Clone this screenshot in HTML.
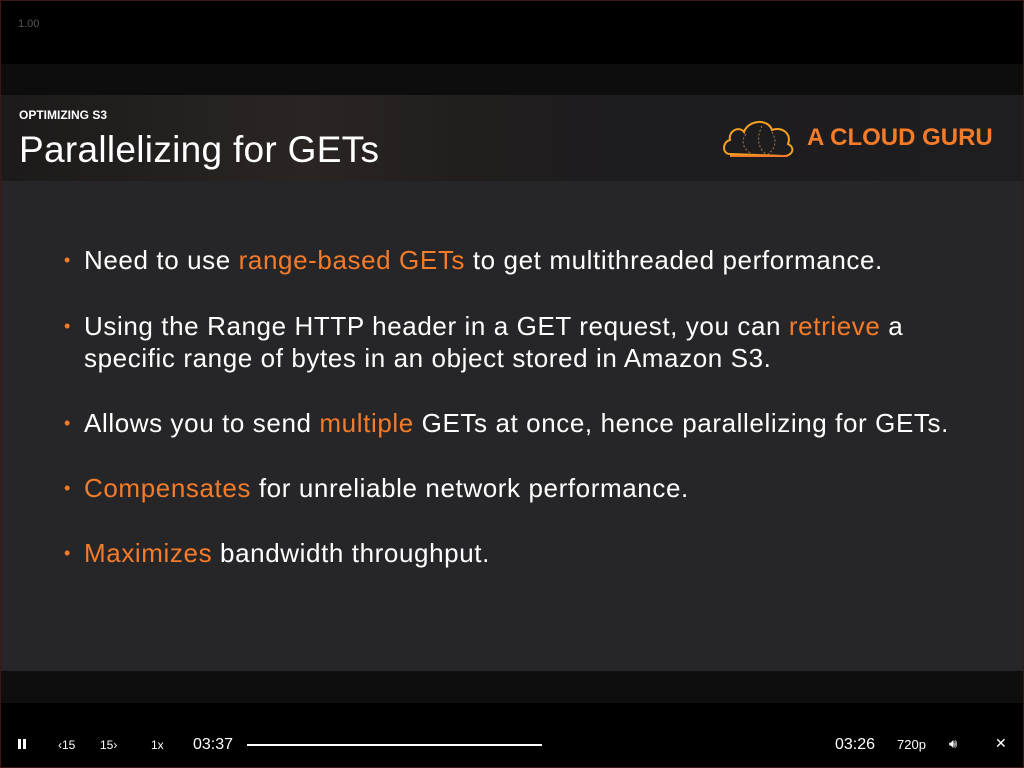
<!DOCTYPE html>
<html><head><style>
body{margin:0;width:1024px;height:768px;background:#000;overflow:hidden;font-family:"Liberation Sans",sans-serif;position:relative}
.frame{position:absolute;left:0;top:0;width:1022px;height:766px;border:1px solid #3a1a10}
.band1{position:absolute;left:1px;top:64px;width:1022px;height:31px;background:#0d0d0d}
.hdr{position:absolute;left:1px;top:95px;width:1022px;height:86px;background:linear-gradient(90deg,#1c1a1a 0%,#2a2523 30%,#221e1e 45%,#1d1c1e 60%,#1e1d1f 100%)}
.body{position:absolute;left:1px;top:181px;width:1022px;height:490px;background:#262527}
.band2{position:absolute;left:1px;top:671px;width:1022px;height:32px;background:#0e0e0e}
.t{position:absolute;color:#fff;white-space:nowrap}
.o{color:#f47b2a}
li{position:absolute;left:64px;color:#fff;font-size:26px;letter-spacing:0.6px;list-style:none;line-height:32px}
li:before{content:"•";color:#f47b2a;position:absolute;left:0;font-size:18px}
li span.tx{position:absolute;left:20px;white-space:nowrap}
</style></head><body>
<div class="frame"></div>
<div class="t" style="left:18px;top:18px;font-size:11px;color:#555">1.00</div>
<div class="band1"></div>
<div class="hdr"></div>
<div class="body"></div>
<div class="band2"></div>
<div class="t" style="left:19px;top:108px;font-size:12px;font-weight:bold">OPTIMIZING S3</div>
<div class="t" style="left:19px;top:129px;font-size:37px;letter-spacing:0.3px">Parallelizing for GETs</div>
<svg style="position:absolute;left:722px;top:118px" width="76" height="42" viewBox="0 0 76 42"><path d="M8 36 C0 36 0 24 8 22 C6 12 18 8 22 14 C26 2 46 0 50 12 C60 8 70 16 66 26 C74 30 70 38 62 38 Z" fill="none" stroke="#f5a020" stroke-width="2"/><path d="M8 38 L66 38" stroke="#f47b2a" stroke-width="2"/><path d="M24 16 C18 24 22 32 30 36 M40 8 C34 20 36 30 44 36 M50 14 C56 24 52 32 46 36" fill="none" stroke="#b07a40" stroke-dasharray="2 2"/></svg>
<div class="t" style="left:807px;top:124px;font-size:24px;font-weight:bold;color:#f47b2a">A CLOUD GURU</div>
<ul style="margin:0;padding:0">
<li style="top:244px"><span class="tx">Need to use <span class="o">range-based GETs</span> to get multithreaded performance.</span></li>
<li style="top:310px"><span class="tx">Using the Range HTTP header in a GET request, you can <span class="o">retrieve</span> a<br>specific range of bytes in an object stored in Amazon S3.</span></li>
<li style="top:407px"><span class="tx">Allows you to send <span class="o">multiple</span> GETs at once, hence parallelizing for GETs.</span></li>
<li style="top:472px"><span class="tx"><span class="o">Compensates</span> for unreliable network performance.</span></li>
<li style="top:537px"><span class="tx"><span class="o">Maximizes</span> bandwidth throughput.</span></li>
</ul>
<div style="position:absolute;left:18px;top:739px;width:3px;height:10px;background:#fff"></div>
<div style="position:absolute;left:23px;top:739px;width:3px;height:10px;background:#fff"></div>
<div class="t" style="left:58px;top:738px;font-size:12px">‹15</div>
<div class="t" style="left:100px;top:738px;font-size:12px">15›</div>
<div class="t" style="left:151px;top:738px;font-size:12px">1x</div>
<div class="t" style="left:193px;top:736px;font-size:16px">03:37</div>
<div style="position:absolute;left:247px;top:744px;width:295px;height:2px;background:#fff"></div>
<div class="t" style="left:835px;top:736px;font-size:16px">03:26</div>
<div class="t" style="left:897px;top:737px;font-size:13px">720p</div>
<div class="t" style="left:949px;top:736px;font-size:13px">🔊︎</div>
<div class="t" style="left:995px;top:735px;font-size:14px">✕</div>
</body></html>
